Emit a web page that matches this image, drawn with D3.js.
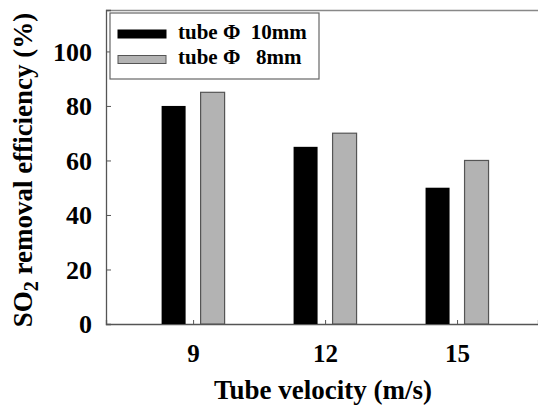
<!DOCTYPE html>
<html>
<head>
<meta charset="utf-8">
<script src="https://cdn.jsdelivr.net/npm/d3@7"></script>
<style>
  body { margin: 0; background: #fff; }
  text { font-family: "Liberation Serif", "Times New Roman", serif; font-weight: bold; fill: #000; }
</style>
</head>
<body>
<script>
// data
var velocities = ["9", "12", "15"];
var seriesNames = ["tube \u03A6  10mm", "tube \u03A6   8mm"];
var tube10 = [80, 65, 50];
var tube8 = [85, 70, 60];
var yTicks = [0, 20, 40, 60, 80, 100];

var serif = "'Liberation Serif', 'Times New Roman', serif";

var W = 538, H = 407;
var margin = { top: 10, right: 0, bottom: 83, left: 106 },
    width = W - margin.left - margin.right,
    height = H - margin.top - margin.bottom;

var svg = d3.select("body").append("svg")
    .attr("width", W)
    .attr("height", H);

var g = svg.append("g")
    .attr("transform", "translate(" + margin.left + "," + margin.top + ")");

// categories sit at 9, 12, 15 on a linear velocity scale
var xScale = d3.scaleLinear().domain([7.02, 16.84]).range([0, width]);
var yScale = d3.scaleLinear().domain([0, 115.2]).range([height, 0]);

var barW = 24, offset = 19.5;

// frame: top line (right side runs off the picture)
g.append("line").attr("x1", 0).attr("x2", width).attr("y1", 0.5).attr("y2", 0.5)
    .attr("stroke", "#888").attr("stroke-width", 1.6);

// y axis, inward ticks
var yAxis = d3.axisLeft(yScale).tickValues(yTicks).tickSize(-5).tickPadding(14);
g.append("g").attr("class", "y axis").call(yAxis)
    .call(function (s) {
        s.attr("font-family", serif).attr("font-size", null);
        s.select(".domain").attr("stroke", "#555").attr("stroke-width", 1.3);
        s.selectAll(".tick line").attr("stroke", "#555");
        s.selectAll("text").style("font-family", serif).style("font-size", "26px").attr("dy", "0.34em");
    });

// x axis, inward ticks
var xAxis = d3.axisBottom(xScale).tickValues(velocities.map(Number))
    .tickSize(-4).tickPadding(20).tickFormat(d3.format("d"));
g.append("g").attr("class", "x axis")
    .attr("transform", "translate(0," + height + ")")
    .call(xAxis)
    .call(function (s) {
        s.attr("font-family", serif).attr("font-size", null);
        s.select(".domain").attr("stroke", "#555").attr("stroke-width", 1.3);
        s.selectAll(".tick line").attr("stroke", "#555");
        s.selectAll("text").style("font-family", serif).style("font-size", "25px");
    });

// bars
g.selectAll(".bar10")
    .data(velocities)
    .enter().append("rect")
    .attr("class", "bar10")
    .attr("x", function (d) { return xScale(+d) - offset - barW / 2; })
    .attr("width", barW)
    .attr("y", function (d, i) { return yScale(tube10[i]); })
    .attr("height", function (d, i) { return height - yScale(tube10[i]); })
    .attr("fill", "#000");

g.selectAll(".bar8")
    .data(velocities)
    .enter().append("rect")
    .attr("class", "bar8")
    .attr("x", function (d) { return xScale(+d) + offset - barW / 2; })
    .attr("width", barW)
    .attr("y", function (d, i) { return yScale(tube8[i]); })
    .attr("height", function (d, i) { return height - yScale(tube8[i]); })
    .attr("fill", "#b3b3b3")
    .attr("stroke", "#555")
    .attr("stroke-width", 1.2);

// legend
var legend = svg.append("g").attr("transform", "translate(110,13)");
legend.append("rect").attr("width", 209).attr("height", 66)
    .attr("fill", "#fff").attr("stroke", "#666").attr("stroke-width", 1.2);
var colors = [["#000", "#000"], ["#b3b3b3", "#555"]];
seriesNames.forEach(function (name, i) {
    var row = legend.append("g").attr("transform", "translate(0," + (i * 25.5) + ")");
    row.append("rect").attr("x", 8).attr("y", 17).attr("width", 48).attr("height", 8)
        .attr("fill", colors[i][0]).attr("stroke", colors[i][1]).attr("stroke-width", 1);
    row.append("text").attr("x", 68).attr("y", 25.5)
        .style("font-size", "21px").style("white-space", "pre")
        .text(name);
});

// axis titles
svg.append("text")
    .attr("x", 323).attr("y", 399)
    .attr("text-anchor", "middle")
    .style("font-size", "27px")
    .text("Tube velocity (m/s)");

var yt = svg.append("text")
    .attr("transform", "translate(32,170) rotate(-90)")
    .attr("text-anchor", "middle")
    .style("font-size", "27px");
yt.append("tspan").text("SO");
yt.append("tspan").attr("dy", 6).style("font-size", "20px").text("2");
yt.append("tspan").attr("dy", -6).text(" removal efficiency (%)");
</script>
</body>
</html>
